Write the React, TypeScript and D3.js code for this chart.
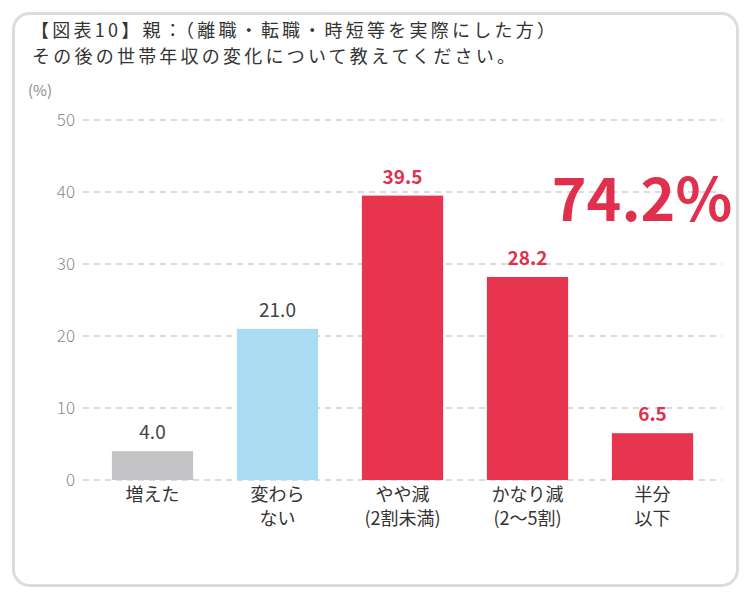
import * as d3 from 'd3'
import { useEffect, useRef, type ReactElement } from 'react'

const categories = ['増えた', '変わらない', 'やや減', 'かなり減', '半分以下']
const categoryLines = [['増えた'], ['変わら', 'ない'], ['やや減', '(2割未満)'], ['かなり減', '(2〜5割)'], ['半分', '以下']]
const values = [4.0, 21.0, 39.5, 28.2, 6.5]
const barColors = ['#c4c3c6', '#a9dcf3', '#e8354f', '#e8354f', '#e8354f']
const yTicks = [0, 10, 20, 30, 40, 50]
const titleLines = ['【図表10】親：（離職・転職・時短等を実際にした方）', 'その後の世帯年収の変化について教えてください。']
const highlight = '74.2%'

const W = 750
const H = 600
const font = '"Noto Sans CJK JP", "Noto Sans", sans-serif'

export default function App(): ReactElement {
  const svgRef = useRef<SVGSVGElement>(null)

  useEffect(() => {
    const el = svgRef.current
    if (!el) return
    const svg = d3.select(el)
    svg.selectAll('*').remove()

    svg
      .append('rect')
      .attr('x', 13.5)
      .attr('y', 13.5)
      .attr('width', 724)
      .attr('height', 572)
      .attr('rx', 16)
      .attr('fill', '#fff')
      .attr('stroke', '#dcdbe0')
      .attr('stroke-width', 3)

    // title: widths stretched to match the source layout
    const titleWidths = [524, 483]
    svg
      .append('g')
      .selectAll('text')
      .data(titleLines)
      .join('text')
      .attr('x', (_, i) => (i === 0 ? 31 : 32))
      .attr('y', (_, i) => 37 + i * 26)
      .attr('font-family', font)
      .attr('font-size', 18)
      .attr('fill', '#333')
      .attr('textLength', (_, i) => titleWidths[i])
      .attr('lengthAdjust', 'spacing')
      .text((d) => d)

    const x = d3.scaleBand<string>().domain(categories).range([90, 715]).paddingInner(0.35).paddingOuter(0.175)
    const y = d3.scaleLinear().domain([0, 50]).range([480, 120])

    svg
      .append('text')
      .attr('x', 28)
      .attr('y', 96)
      .attr('font-family', font)
      .attr('font-size', 15)
      .attr('fill', '#888')
      .text('(%)')

    const grid = svg.append('g')
    grid
      .selectAll('line')
      .data(yTicks)
      .join('line')
      .attr('x1', 83)
      .attr('x2', 722)
      .attr('y1', (d) => y(d))
      .attr('y2', (d) => y(d))
      .attr('stroke', (d) => (d === 0 ? '#c9d3d8' : '#cfcfd2'))
      .attr('stroke-width', 1.3)
      .attr('stroke-dasharray', '6,5')
    grid
      .selectAll('text')
      .data(yTicks)
      .join('text')
      .attr('x', 75)
      .attr('y', (d) => y(d))
      .attr('dy', '0.36em')
      .attr('text-anchor', 'end')
      .attr('font-family', font)
      .attr('font-size', 17)
      .attr('font-weight', 300)
      .attr('fill', '#8a8a8a')
      .text((d) => d)

    const bars = svg.append('g')
    bars
      .selectAll('rect')
      .data(values)
      .join('rect')
      .attr('x', (_, i) => x(categories[i])!)
      .attr('width', x.bandwidth())
      .attr('y', (d) => y(d))
      .attr('height', (d) => y(0) - y(d))
      .attr('fill', (_, i) => barColors[i])

    bars
      .selectAll('text')
      .data(values)
      .join('text')
      .attr('x', (_, i) => x(categories[i])! + x.bandwidth() / 2)
      .attr('y', (d) => y(d) - 12)
      .attr('text-anchor', 'middle')
      .attr('font-family', font)
      .attr('font-size', 19)
      .attr('font-weight', (_, i) => (i >= 2 ? 'bold' : 'normal'))
      .attr('fill', (_, i) => (i >= 2 ? '#e0304e' : '#444'))
      .text((d) => d.toFixed(1))

    const labels = svg.append('g')
    categories.forEach((c, i) => {
      labels
        .append('text')
        .attr('x', x(c)! + x.bandwidth() / 2)
        .attr('y', 501)
        .attr('text-anchor', 'middle')
        .attr('font-family', font)
        .attr('font-size', 18)
        .attr('fill', '#333')
        .selectAll('tspan')
        .data(categoryLines[i])
        .join('tspan')
        .attr('x', x(c)! + x.bandwidth() / 2)
        .attr('dy', (_, j) => (j === 0 ? 0 : 24))
        .text((d) => d)
    })

    svg
      .append('text')
      .attr('x', 642)
      .attr('y', 221)
      .attr('text-anchor', 'middle')
      .attr('font-family', font)
      .attr('font-size', 59)
      .attr('font-weight', 'bold')
      .attr('fill', '#e0304e')
      .text(highlight)
  }, [])

  return <svg ref={svgRef} width={W} height={H} style={{ display: 'block', margin: -8 }} />
}
